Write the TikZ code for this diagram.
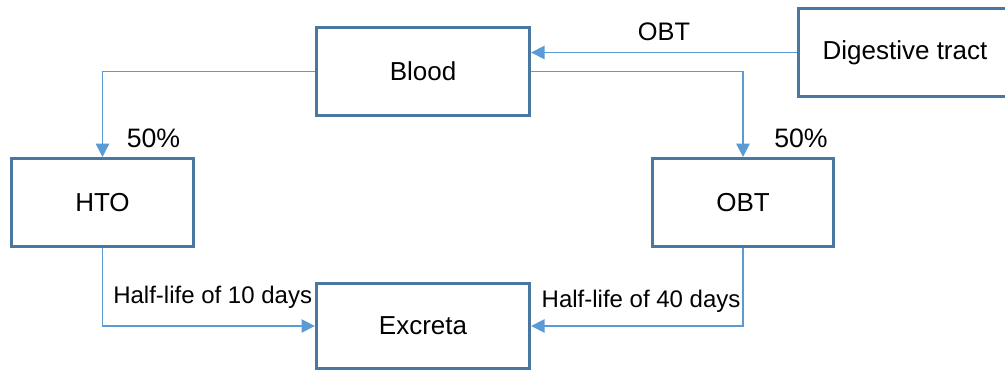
\documentclass[tikz,border=0pt]{standalone}
\usepackage{fontspec}
\setmainfont{Liberation Sans}
\usetikzlibrary{arrows.meta}
\definecolor{boxline}{HTML}{4A77A2}
\definecolor{flowline}{HTML}{5B9BD5}
\tikzstyle{box} = [rectangle, draw=boxline, line width=2.25pt, align=center, font=\fontsize{19.5}{23}\selectfont]
\tikzstyle{arrow} = [draw=flowline, line width=1.2pt, -{Triangle[length=10pt,width=10pt]}]
\tikzstyle{flowlabel} = [font=\fontsize{18}{21}\selectfont, inner sep=0pt]
\tikzstyle{pctlabel} = [font=\fontsize{20}{24}\selectfont, inner sep=0pt]

\begin{document}
\begin{tikzpicture}[x=0.75pt, y=-0.75pt]
  \useasboundingbox (0,0) rectangle (1005,373);
  \clip (0,0) rectangle (1005,373);
  \node (blood) [box, minimum width=160pt, minimum height=66pt] at (423,71.5) {Blood};
  \node (digest) [box, minimum width=160pt, minimum height=66pt] at (905,52.5) {Digestive tract};
  \node (hto) [box, minimum width=137pt, minimum height=66pt] at (102.5,202.5) {HTO};
  \node (obt) [box, minimum width=136pt, minimum height=66pt] at (743,202.5) {OBT};
  \node (excreta) [box, minimum width=160pt, minimum height=64pt] at (423,326) {Excreta};

  \draw[arrow] (digest.west) -- (digest.west -| blood.east)
    node[midway, flowlabel, font=\fontsize{19}{23}\selectfont, anchor=base, yshift=9pt] {OBT};
  \draw[arrow] (blood.west) -| (hto.north);
  \draw[arrow] (blood.east) -| (obt.north);
  \node (pcthto) [pctlabel, anchor=base west] at ([shift={(24,-9)}]hto.north) {50\%};
  \node (pctobt) [pctlabel, anchor=base west] at ([shift={(31,-9)}]obt.north) {50\%};

  \draw[arrow] (hto.south) |- (excreta.west)
    node[pos=0.75, flowlabel, anchor=base, xshift=3pt, yshift=16.5pt] {Half-life of 10 days};
  \draw[arrow] (obt.south) |- (excreta.east)
    node[pos=0.75, flowlabel, anchor=base, xshift=3pt, yshift=14pt] {Half-life of 40 days};
\end{tikzpicture}
\end{document}
